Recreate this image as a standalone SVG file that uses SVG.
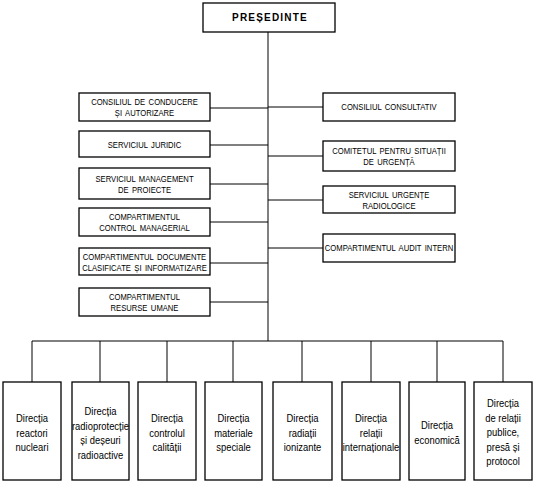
<svg xmlns="http://www.w3.org/2000/svg" width="534" height="484" viewBox="0 0 534 484">
<style>
.bx{fill:#fff;stroke:#000;stroke-width:1.3}
.ln{fill:none;stroke:#000;stroke-width:1}
.t{font-family:"Liberation Sans",Arial,sans-serif;font-size:9px;word-spacing:1.5px;text-anchor:middle;fill:#000}
.b{font-family:"Liberation Sans",Arial,sans-serif;font-size:11.5px;text-anchor:middle;fill:#000}
.p{font-family:"Liberation Sans",Arial,sans-serif;font-size:10px;font-weight:bold;letter-spacing:1.2px;text-anchor:middle;fill:#000}
</style>
<rect width="534" height="484" fill="#fff"/>
<g id="connectors">
<path class="ln" d="M268,32V341M32,341H503M32,341V382M100,341V382M167,341V382M233,341V382M302,341V382M371,341V382M437,341V382M503,341V382"/>
<path class="ln" d="M210,108H268M210,145H268M210,184H268M210,222H268M210,263H268M210,302H268"/>
<path class="ln" d="M268,107H323M268,156H323M268,200H323M268,248H323"/>
</g>
<g id="presedinte"><rect class="bx" x="203" y="3" width="132" height="29"/><text class="p" x="270" y="21">PREȘEDINTE</text></g>
<g id="l1"><rect class="bx" x="79" y="93" width="131" height="28"/><text class="t" transform="translate(144.5,105) scale(.85,1)">CONSILIUL DE CONDUCERE</text><text class="t" transform="translate(144.5,116) scale(.85,1)">ȘI AUTORIZARE</text></g>
<g id="l2"><rect class="bx" x="79" y="131" width="131" height="26"/><text class="t" transform="translate(144.5,148) scale(.85,1)">SERVICIUL JURIDIC</text></g>
<g id="l3"><rect class="bx" x="79" y="168" width="131" height="31"/><text class="t" transform="translate(144.5,182) scale(.85,1)">SERVICIUL MANAGEMENT</text><text class="t" transform="translate(144.5,193) scale(.85,1)">DE PROIECTE</text></g>
<g id="l4"><rect class="bx" x="79" y="208" width="131" height="28"/><text class="t" transform="translate(144.5,220) scale(.85,1)">COMPARTIMENTUL</text><text class="t" transform="translate(144.5,231) scale(.85,1)">CONTROL MANAGERIAL</text></g>
<g id="l5"><rect class="bx" x="79" y="248" width="131" height="27"/><text class="t" transform="translate(144.5,260) scale(.85,1)">COMPARTIMENTUL DOCUMENTE</text><text class="t" transform="translate(144.5,271) scale(.85,1)">CLASIFICATE ȘI INFORMATIZARE</text></g>
<g id="l6"><rect class="bx" x="79" y="288" width="131" height="28"/><text class="t" transform="translate(144.5,300) scale(.85,1)">COMPARTIMENTUL</text><text class="t" transform="translate(144.5,311) scale(.85,1)">RESURSE UMANE</text></g>
<g id="r1"><rect class="bx" x="323" y="93" width="132" height="28"/><text class="t" transform="translate(389,110) scale(.85,1)">CONSILIUL CONSULTATIV</text></g>
<g id="r2"><rect class="bx" x="323" y="141" width="132" height="30"/><text class="t" transform="translate(389,154) scale(.85,1)">COMITETUL PENTRU SITUAȚII</text><text class="t" transform="translate(389,165) scale(.85,1)">DE URGENȚĂ</text></g>
<g id="r3"><rect class="bx" x="323" y="186" width="132" height="27"/><text class="t" transform="translate(389,198) scale(.85,1)">SERVICIUL URGENȚE</text><text class="t" transform="translate(389,209) scale(.85,1)">RADIOLOGICE</text></g>
<g id="r4"><rect class="bx" x="323" y="234" width="132" height="28"/><text class="t" transform="translate(389,251) scale(.85,1)">COMPARTIMENTUL AUDIT INTERN</text></g>
<g id="d1"><rect class="bx" x="3" y="382" width="58" height="98"/><text class="b" transform="translate(32,422) scale(.82,1)">Direcția</text><text class="b" transform="translate(32,436.5) scale(.82,1)">reactori</text><text class="b" transform="translate(32,451) scale(.82,1)">nucleari</text></g>
<g id="d2"><rect class="bx" x="72" y="382" width="57" height="98"/><text class="b" transform="translate(100.5,415) scale(.82,1)">Direcția</text><text class="b" transform="translate(100.5,429.5) scale(.82,1)">radioprotecție</text><text class="b" transform="translate(100.5,444) scale(.82,1)">și deșeuri</text><text class="b" transform="translate(100.5,458.5) scale(.82,1)">radioactive</text></g>
<g id="d3"><rect class="bx" x="138" y="382" width="58" height="98"/><text class="b" transform="translate(167,422) scale(.82,1)">Direcția</text><text class="b" transform="translate(167,436.5) scale(.82,1)">controlul</text><text class="b" transform="translate(167,451) scale(.82,1)">calității</text></g>
<g id="d4"><rect class="bx" x="205" y="382" width="57" height="98"/><text class="b" transform="translate(233.5,422) scale(.82,1)">Direcția</text><text class="b" transform="translate(233.5,436.5) scale(.82,1)">materiale</text><text class="b" transform="translate(233.5,451) scale(.82,1)">speciale</text></g>
<g id="d5"><rect class="bx" x="273" y="382" width="59" height="98"/><text class="b" transform="translate(302.5,422) scale(.82,1)">Direcția</text><text class="b" transform="translate(302.5,436.5) scale(.82,1)">radiații</text><text class="b" transform="translate(302.5,451) scale(.82,1)">ionizante</text></g>
<g id="d6"><rect class="bx" x="342" y="382" width="58" height="98"/><text class="b" transform="translate(371,422) scale(.82,1)">Direcția</text><text class="b" transform="translate(371,436.5) scale(.82,1)">relații</text><text class="b" transform="translate(371,451) scale(.82,1)">internaționale</text></g>
<g id="d7"><rect class="bx" x="409" y="382" width="56" height="98"/><text class="b" transform="translate(437,429) scale(.82,1)">Direcția</text><text class="b" transform="translate(437,443.5) scale(.82,1)">economică</text></g>
<g id="d8"><rect class="bx" x="474" y="382" width="58" height="98"/><text class="b" transform="translate(503,407) scale(.82,1)">Direcția</text><text class="b" transform="translate(503,421.5) scale(.82,1)">de relații</text><text class="b" transform="translate(503,436) scale(.82,1)">publice,</text><text class="b" transform="translate(503,450.5) scale(.82,1)">presă și</text><text class="b" transform="translate(503,465) scale(.82,1)">protocol</text></g>
</svg>
